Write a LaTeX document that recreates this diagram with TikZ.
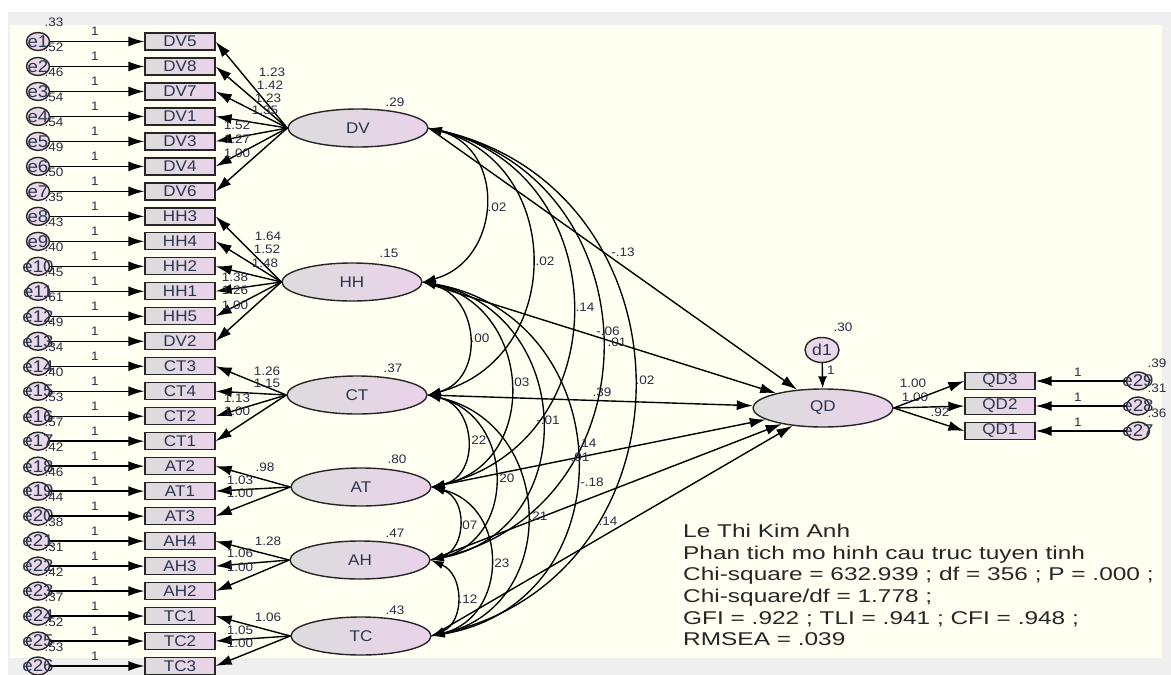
\documentclass[tikz,border=0pt]{standalone}
\usepackage{fontspec}
\setmainfont{Liberation Sans}[FakeStretch=1.1]
\newfontfamily\statfont{Liberation Sans}[FakeStretch=1.32]
\usetikzlibrary{arrows.meta,shapes.geometric}
\definecolor{cream}{HTML}{FFFFF2}
\definecolor{framegrey}{HTML}{EFEFEF}
\definecolor{boxL}{HTML}{DCDCDC}
\definecolor{boxR}{HTML}{EAD2EA}
\definecolor{errfill}{HTML}{E8D8E8}
\definecolor{txt}{HTML}{2A3550}
\definecolor{numc}{HTML}{2B2B45}
\newcommand\covar[4]{\draw[cov] (#1.east) .. controls +(#3,#4) and +(#3,-#4) .. (#2.east);}
\begin{document}
\begin{tikzpicture}[x=1pt,y=-1pt,
  ind/.style={draw=black!85, line width=1.3pt, left color=boxL, right color=boxR, minimum width=70pt, minimum height=17pt, inner sep=0pt, text=txt, font=\fontsize{15.5}{16}\selectfont},
  lat/.style={ellipse, draw=black!85, line width=1.4pt, left color=boxL, right color=boxR, minimum width=140pt, minimum height=38pt, inner sep=0pt, text=txt, font=\fontsize{15.5}{16}\selectfont},
  err/.style={ellipse, draw=black!85, line width=1.4pt, fill=errfill, minimum width=23pt, minimum height=18pt, inner sep=0pt},
  errlab/.style={inner sep=0pt, text=txt, font=\fontsize{17}{17}\selectfont},
  lab/.style={inner sep=0pt, text=numc, font=\fontsize{12.3}{13}\selectfont},
  reg/.style={line width=1.4pt, -{Latex[length=16pt,width=10pt]}},
  cov/.style={line width=1.35pt, {Latex[length=13pt,width=8pt]}-{Latex[length=13pt,width=8pt]}}
]
\fill[white] (0,0) rectangle (1171,675);
\fill[framegrey] (8,12) rectangle (1171,675);
\fill[cream] (10,25) rectangle (1162,658);
\useasboundingbox (0,0) rectangle (1171,675);

% indicators and their errors
\foreach \nm/\v [count=\j] in {DV5/.33,DV8/.52,DV7/.46,DV1/.54,DV3/.54,DV4/.49,DV6/.50,HH3/.35,HH4/.43,HH2/.40,HH1/.45,HH5/.61,DV2/.49,CT3/.34,CT4/.40,CT2/.53,CT1/.57,AT2/.42,AT1/.46,AT3/.44,AH4/.38,AH3/.31,AH2/.42,TC1/.37,TC2/.52,TC3/.53}{
  \pgfmathsetmacro\yy{41.5+24.98*(\j-1)}
  \node[ind] (\nm) at (180,\yy) {\nm};
  \node[err] (e\j) at (38,\yy) {};
  \node[errlab] (el\j) at (e\j) {e\j};
  \draw[reg] (e\j) -- (\nm);
  \node[lab] (one\j) at (95,{\yy-10}) {1};
  \node[lab] (var\j) at (54,{\yy-19}) {\v};
}

% latent variables
\node[lat] (DV) at (358,128) {DV};
\node[lat] (HH) at (352,282) {HH};
\node[lat] (CT) at (357,395) {CT};
\node[lat] (AT) at (361,487) {AT};
\node[lat] (AH) at (360,560) {AH};
\node[lat] (TC) at (361,636) {TC};
\node[lab] (vDV) at (395,102) {.29};
\node[lab] (vHH) at (389,253) {.15};
\node[lab] (vCT) at (393,368) {.37};
\node[lab] (vAT) at (397,459) {.80};
\node[lab] (vAH) at (395,533) {.47};
\node[lab] (vTC) at (395,610) {.43};

% loadings
\foreach \b in {DV5,DV8,DV7,DV1,DV3,DV4,DV6}{\draw[reg] (DV.west) -- (\b.east);}
\foreach \b in {HH3,HH4,HH2,HH1,HH5,DV2}{\draw[reg] (HH.west) -- (\b.east);}
\foreach \b in {CT3,CT4,CT2,CT1}{\draw[reg] (CT.west) -- (\b.east);}
\foreach \b in {AT2,AT1,AT3}{\draw[reg] (AT.west) -- (\b.east);}
\foreach \b in {AH4,AH3,AH2}{\draw[reg] (AH.west) -- (\b.east);}
\foreach \b in {TC1,TC2,TC3}{\draw[reg] (TC.west) -- (\b.east);}
\foreach \t/\x/\y [count=\k] in {1.23/272/72,1.42/270/85,1.23/268/98,1.35/265/110,1.52/237/125,1.27/237/139,1.00/237/153,
  1.64/268/236,1.52/267/249,1.48/265/263,1.38/235/277,1.26/235/290,1.00/235/305,
  1.26/267/371,1.15/267/383,1.13/237/398,1.00/237/411,
  .98/265/467,1.03/240/480,1.00/240/493,
  1.28/268/541,1.06/240/553,1.00/240/567,
  1.06/268/617,1.05/240/630,1.00/240/643}{\node[lab] (ld\k) at (\x,\y) {\t};}

% dependent side
\node[lat] (QD) at (823,408) {QD};
\node[err, minimum width=34pt, minimum height=25pt] (d1) at (822,350) {};
\node[errlab, font=\fontsize{16}{16}\selectfont] (d1l) at (d1) {d1};
\draw[reg, -{Latex[length=12pt,width=9pt]}] (d1) -- (QD);
\node[lab] (vd1) at (843,327) {.30};
\node[lab] (od1) at (831,370) {1};
\node[ind] (QD3) at (1000,381) {QD3};
\node[ind] (QD2) at (1000,406) {QD2};
\node[ind] (QD1) at (1000,431) {QD1};
\foreach \e/\q/\yy/\v in {29/QD3/381/.39,28/QD2/406/.31,27/QD1/431/.36}{
  \node[err] (e\e) at (1138,\yy) {};
  \node[errlab] (el\e) at (e\e) {e\e};
  \draw[reg] (e\e) -- (\q);
  \node[lab] (one\e) at (1078,{\yy-9}) {1};
  \node[lab] (var\e) at (1157,{\yy-18}) {\v};
}
\draw[reg] (QD.east) -- (QD3.west);
\draw[reg] (QD.east) -- (QD2.west);
\draw[reg] (QD.east) -- (QD1.west);
\node[lab] (lq3) at (913,383) {1.00};
\node[lab] (lq2) at (915,397) {1.00};
\node[lab] (lq1) at (940,412) {.92};

% covariances
\covar{DV}{HH}{78.7}{21.2}
\covar{DV}{CT}{137.3}{36}
\covar{DV}{AT}{188.7}{44.8}
\covar{DV}{AH}{228.7}{53.2}
\covar{DV}{TC}{270.7}{61.2}
\covar{HH}{CT}{57.3}{15.9}
\covar{HH}{AT}{110}{24.1}
\covar{HH}{AH}{152.7}{29.8}
\covar{HH}{TC}{198.7}{34.4}
\covar{CT}{AT}{48.7}{11.3}
\covar{CT}{AH}{86.7}{20.9}
\covar{CT}{TC}{128.7}{28.8}
\covar{AT}{AH}{36}{11}
\covar{AT}{TC}{77.3}{19.6}
\covar{AH}{TC}{33.3}{14.4}

% structural paths
\foreach \s in {DV,HH,CT,AT,AH,TC}{\draw[reg] (\s.east) -- (QD);}

% path and covariance estimates
\foreach \t/\x/\y [count=\k] in {-.13/623/252,.01/617/342,.39/602/392,.14/587/443,.01/580/457,-.18/592/482,.14/608/521,
  .02/497/207,.02/545/261,.14/585/307,-.06/608/331,.02/645/380,
  .00/480/338,.03/520/382,-.01/548/420,
  .22/477/440,.20/505/478,.21/538/516,
  .07/468/525,.23/500/563,.12/468/599}{\node[lab] (est\k) at (\x,\y) {\t};}

% fit statistics
\node[anchor=north west, align=left, inner sep=0pt, text=black!85, font=\statfont\fontsize{18.5}{21.6}\selectfont] (stats) at (683,524)
  {Le Thi Kim Anh\\Phan tich mo hinh cau truc tuyen tinh\\Chi-square = 632.939 ; df = 356 ; P = .000 ;\\Chi-square/df = 1.778 ;\\GFI = .922 ; TLI = .941 ; CFI = .948 ;\\RMSEA = .039};
\end{tikzpicture}
\end{document}
